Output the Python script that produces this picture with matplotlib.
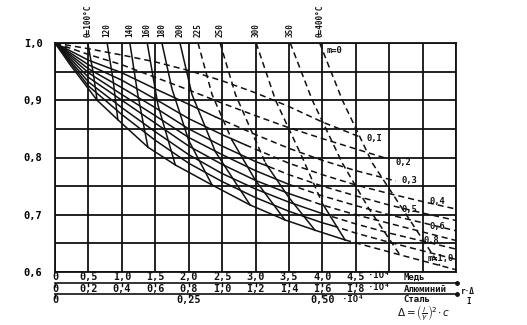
import matplotlib
matplotlib.use("Agg")
import matplotlib.pyplot as plt
from matplotlib import transforms

# --- temperature curves: points from the top edge down to the m=1,0 curve
theta_labels = ["θ=100°C", "120", "140", "160", "180", "200", "225", "250",
                "300", "350", "θ=400°C"]
theta_x = [
    [0.49, 0.57, 0.63],
    [0.78, 0.87, 0.94],
    [1.12, 1.24, 1.39],
    [1.38, 1.54, 1.80],
    [1.60, 1.75, 2.00, 2.35],
    [1.87, 2.05, 2.40, 2.92],
    [2.14, 2.35, 2.65, 3.00, 3.44],
    [2.47, 2.70, 3.15, 3.50, 3.89],
    [3.01, 3.30, 3.70, 4.00, 4.34],
    [3.52, 3.85, 4.30, 4.70, 5.16],
    [3.96, 4.30, 4.75, 5.20, 5.76],
]
theta_y = [
    [1.0, 0.949, 0.900],
    [1.0, 0.935, 0.866],
    [1.0, 0.909, 0.818],
    [1.0, 0.892, 0.787],
    [1.0, 0.920, 0.830, 0.752],
    [1.0, 0.910, 0.810, 0.717],
    [1.0, 0.910, 0.830, 0.760, 0.691],
    [1.0, 0.910, 0.790, 0.730, 0.673],
    [1.0, 0.900, 0.800, 0.720, 0.656],
    [1.0, 0.900, 0.790, 0.710, 0.630],
    [1.0, 0.900, 0.790, 0.710, 0.611],
]
# index of the point where the curve turns solid (None = dashed throughout)
theta_solid_from = [0, 0, 0, 0, 0, 0, 2, 2, 3, None, None]

# --- m curves
m_labels = ["0,I", "0,2", "0,3", "0,4", "0,5", "0,6", "", "0,8", "", "m=1,0"]
m_x = [
    [0, 0.5, 1.0, 1.5, 2.0, 2.5, 3.0, 3.5, 4.0, 4.56],
    [0, 0.5, 1.0, 1.5, 2.0, 2.5, 3.0, 3.5, 4.0, 4.5, 5.0],
    [0, 0.5, 1.0, 1.5, 2.0, 2.4, 3.0, 3.5, 4.0, 4.5, 5.1],
    [0, 0.5, 1.0, 1.5, 2.0, 2.5, 2.85, 3.5, 4.0, 4.5, 5.0, 5.5, 6.0],
    [0, 0.5, 1.0, 1.5, 2.0, 2.5, 3.0, 3.2, 3.5, 4.0, 4.5, 5.0, 5.5, 6.0],
    [0, 0.5, 1.0, 1.5, 2.0, 2.5, 3.0, 3.5, 4.0, 4.5, 5.0, 5.5, 6.0],
    [0, 0.5, 1.0, 1.5, 2.0, 2.5, 3.0, 3.5, 3.75, 4.0, 4.5, 5.0, 5.5, 6.0],
    [0, 0.5, 1.0, 1.5, 2.0, 2.5, 3.0, 3.5, 4.0, 4.5, 5.0, 5.5, 6.0],
    [0, 0.5, 1.0, 1.5, 2.0, 2.5, 3.0, 3.5, 4.0, 4.15, 4.5, 5.0, 5.5, 6.0],
    [0, 0.22, 0.63, 0.94, 1.39, 1.80, 2.35, 2.92, 3.44, 3.89, 4.34, 5.16, 6.03],
]
m_y = [
    [1.0, 0.990, 0.979, 0.967, 0.952, 0.934, 0.913, 0.889, 0.862, 0.836],
    [1.0, 0.980, 0.962, 0.940, 0.918, 0.895, 0.873, 0.852, 0.833, 0.815, 0.797],
    [1.0, 0.970, 0.948, 0.920, 0.893, 0.871, 0.840, 0.816, 0.795, 0.777, 0.759],
    [1.0, 0.962, 0.935, 0.902, 0.868, 0.840, 0.822, 0.790, 0.770, 0.752, 0.737, 0.723, 0.710],
    [1.0, 0.955, 0.922, 0.887, 0.850, 0.820, 0.793, 0.784, 0.770, 0.750, 0.733, 0.717, 0.703, 0.690],
    [1.0, 0.948, 0.910, 0.873, 0.835, 0.805, 0.777, 0.753, 0.733, 0.716, 0.700, 0.686, 0.672],
    [1.0, 0.940, 0.900, 0.860, 0.820, 0.788, 0.760, 0.737, 0.727, 0.717, 0.700, 0.685, 0.670, 0.655],
    [1.0, 0.932, 0.887, 0.845, 0.805, 0.772, 0.745, 0.722, 0.702, 0.684, 0.668, 0.654, 0.640],
    [1.0, 0.925, 0.875, 0.830, 0.790, 0.758, 0.730, 0.706, 0.686, 0.681, 0.668, 0.652, 0.637, 0.622],
    [1.0, 0.963, 0.900, 0.866, 0.818, 0.787, 0.752, 0.717, 0.691, 0.673, 0.656, 0.630, 0.603],
]
# index of the last solid point (None = dashed throughout)
m_solid_to = [None, None, 5, 6, 7, 7, 8, 8, 9, 10]

# --- scales under the chart
copper_vals = [0, 0.5, 1.0, 1.5, 2.0, 2.5, 3.0, 3.5, 4.0, 4.5]
copper_text = ["0", "0,5", "I,0", "I,5", "2,0", "2,5", "3,0", "3,5", "4,0", "4,5"]
alu_vals = [0, 0.2, 0.4, 0.6, 0.8, 1.0, 1.2, 1.4, 1.6, 1.8]
alu_text = ["0", "0,2", "0,4", "0,6", "0,8", "I,0", "I,2", "I,4", "I,6", "I,8"]
steel_vals = [0, 0.25, 0.50]
steel_text = ["0", "0,25", "0,50"]
y_ticks = [0.6, 0.65, 0.7, 0.75, 0.8, 0.85, 0.9, 0.95, 1.0]
y_text = ["0,6", "", "0,7", "", "0,8", "", "0,9", "", "I,0"]

MONO = "DejaVu Sans Mono"
INK = "#111111"
DASH = (0, (4, 2.6))

fig = plt.figure(figsize=(5.27, 3.25), dpi=100)
ax = fig.add_axes([55 / 527, 1 - 272 / 325, 401 / 527, 229 / 325])
ax.set_xlim(0, 6)
ax.set_ylim(0.6, 1.0)
ax.set_xticks([i * 0.5 for i in range(13)])
ax.set_xticklabels([])
ax.set_yticks(y_ticks)
ax.set_yticklabels(y_text, fontfamily=MONO, fontweight="bold", fontsize=7.5)
ax.tick_params(length=0, pad=9)
ax.grid(True, color=INK, lw=1.3)
for s in ax.spines.values():
    s.set_color(INK)
    s.set_linewidth(1.3)

# m curves
for xs, ys, k in zip(m_x, m_y, m_solid_to):
    if k is None:
        ax.plot(xs, ys, color=INK, lw=1.1, ls=DASH)
    else:
        ax.plot(xs[:k + 1], ys[:k + 1], color=INK, lw=1.1)
        ax.plot(xs[k:], ys[k:], color=INK, lw=1.1, ls=DASH)

# temperature curves
for xs, ys, k in zip(theta_x, theta_y, theta_solid_from):
    if k is None:
        ax.plot(xs, ys, color=INK, lw=1.1, ls=DASH)
    else:
        ax.plot(xs[:k + 1], ys[:k + 1], color=INK, lw=1.1, ls=DASH)
        ax.plot(xs[k:], ys[k:], color=INK, lw=1.1)

txt = dict(fontfamily=MONO, fontweight="bold", color=INK)

# labels of m curves
m_label_pos = [(4.66, 0.834), (5.09, 0.791), (5.19, 0.760), (5.61, 0.724),
               (5.19, 0.710), (5.61, 0.679), None, (5.52, 0.655), None, (5.58, 0.623)]
for lab, pos in zip(m_labels, m_label_pos):
    if pos:
        ax.text(pos[0], pos[1], lab, fontsize=6.3, ha="left", va="center", **txt)
ax.text(4.07, 0.987, "m=0", fontsize=6.3, ha="left", va="center", **txt)
ax.text(0.06, 0.991, "n=", fontsize=5.5, ha="left", va="center", **txt)

# temperature labels above the chart
top = transforms.blended_transform_factory(ax.transData, fig.transFigure)
for lab, xs in zip(theta_labels, theta_x):
    ax.text(xs[0], 1 - 37 / 325, lab, transform=top, rotation=90,
            fontsize=5.5, ha="center", va="bottom", **txt)

# scales below the chart
def fy(py):
    return 1 - py / 325


for v, t in zip(copper_vals, copper_text):
    ax.text(v, fy(277), t, transform=top, fontsize=7.3, ha="center", va="center", **txt)
ax.text(4.68, fy(276), "·IO⁴", transform=top, fontsize=6.5, ha="left", va="center", **txt)
ax.text(5.22, fy(277), "Медь", transform=top, fontsize=6.5, ha="left", va="center", **txt)

for py in (283, 294):
    ax.plot([0, 6.02], [fy(py), fy(py)], transform=top, color=INK, lw=1.2, clip_on=False)
    ax.plot([6.02], [fy(py)], transform=top, marker="o", ms=2.5, color=INK, clip_on=False)

for v, t in zip(alu_vals, alu_text):
    x = v * 2.5
    ax.plot([x, x], [fy(283), fy(285.5)], transform=top, color=INK, lw=1, clip_on=False)
    ax.text(x, fy(289), t, transform=top, fontsize=7.3, ha="center", va="center", **txt)
ax.text(4.68, fy(288), "·IO⁴", transform=top, fontsize=6.5, ha="left", va="center", **txt)
ax.text(5.22, fy(289), "Алюминий", transform=top, fontsize=6.5, ha="left", va="center", **txt)

for v, t in zip(steel_vals, steel_text):
    x = v * 8
    ax.plot([x, x], [fy(294), fy(296.5)], transform=top, color=INK, lw=1, clip_on=False)
    ax.text(x, fy(300), t, transform=top, fontsize=7.3, ha="center", va="center", **txt)
ax.text(4.3, fy(299), "·IO⁴", transform=top, fontsize=6.5, ha="left", va="center", **txt)
ax.text(5.22, fy(300), "Сталь", transform=top, fontsize=6.5, ha="left", va="center", **txt)

ax.text(5.12, fy(313), r"$\Delta=\left(\frac{l}{\gamma}\right)^2\!\cdot c$",
        transform=top, fontsize=7.5, ha="left", va="center", color=INK)
fig.text(461 / 527, fy(291), "r·Δ", fontsize=5.5, ha="left", va="center", **txt)
fig.text(466 / 527, fy(302), "I", fontsize=5.5, ha="left", va="center", **txt)

fig.savefig("out.png", dpi=100)
